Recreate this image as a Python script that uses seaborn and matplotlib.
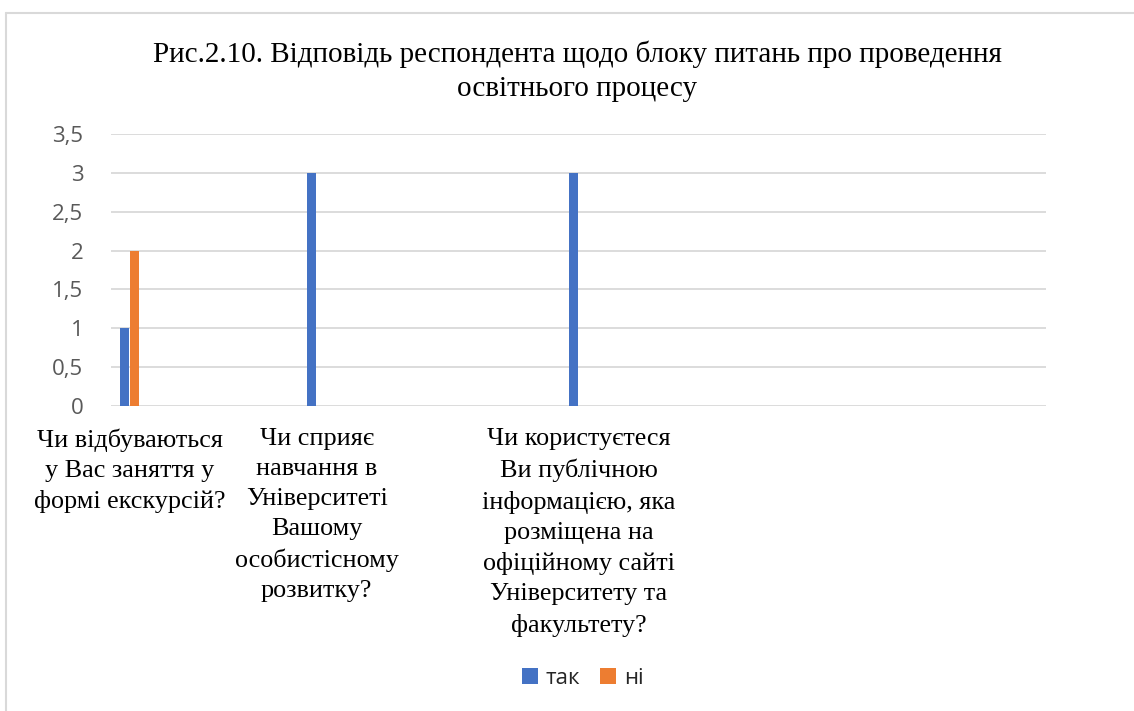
import numpy as np
import pandas as pd
import matplotlib
matplotlib.use("Agg")
import matplotlib.pyplot as plt
from matplotlib.lines import Line2D
import seaborn as sns

# chart data
title = "Рис.2.10. Відповідь респондента щодо блоку питань про проведення\nосвітнього процесу"
questions = [
    "Чи відбуваються\nу Вас заняття у\nформі екскурсій?",
    "Чи сприяє\nнавчання в\nУніверситеті\nВашому\nособистісному\nрозвитку?",
    "Чи користуєтеся\nВи публічною\nінформацією, яка\nрозміщена на\nофіційному сайті\nУніверситету та\nфакультету?",
]
# the source sheet has 25 category rows, only three of them are filled
question_rows = [0, 5, 12]
n_rows = 25
tak = [1, 3, 3]
ni = [2, 0, 0]
series_names = ["так", "ні"]
yticks = [0, 0.5, 1, 1.5, 2, 2.5, 3, 3.5]
ytick_labels = ["0", "0,5", "1", "1,5", "2", "2,5", "3", "3,5"]

palette = {"так": "#4472C4", "ні": "#ED7D31"}
grid_gray = "#D9D9D9"
text_gray = "#595959"


def main():
    sns.set_theme(style="white")
    plt.rcParams["font.family"] = ["Open Sans", "DejaVu Sans"]

    row_keys = [f"row{i}" for i in range(n_rows)]
    q_keys = [row_keys[i] for i in question_rows]
    df = pd.DataFrame({
        "row": q_keys * 2,
        "value": tak + ni,
        "series": [series_names[0]] * len(tak) + [series_names[1]] * len(ni),
    })

    fig = plt.figure(figsize=(11.34, 7.11), dpi=100)
    ax = fig.add_axes([111 / 1134, 1 - 406 / 711, 935 / 1134, 272 / 711])

    sns.barplot(
        data=df, x="row", y="value", hue="series", order=row_keys,
        hue_order=series_names, palette=palette, width=0.55, gap=0.15,
        saturation=1, ax=ax, legend=True, linewidth=0,
    )

    ax.set_ylim(0, 3.5)
    ax.set_yticks(yticks)
    ax.set_yticklabels(ytick_labels, fontsize=16, color=text_gray)
    ax.set_xlim(-0.5, n_rows - 0.5)
    labels = [""] * n_rows
    for q, i in zip(questions, question_rows):
        labels[i] = q
    ax.set_xticks(range(n_rows))
    ax.set_xticklabels(labels, fontsize=18.8, family="Liberation Serif",
                       color="black", linespacing=1.47, va="top")
    ax.tick_params(axis="y", length=0, pad=20)
    ax.tick_params(axis="x", length=0, pad=16)
    ax.set_xlabel("")
    ax.set_ylabel("")

    ax.yaxis.grid(True, color=grid_gray, linewidth=1.3)
    ax.set_axisbelow(True)
    for s in ax.spines.values():
        s.set_visible(False)

    handles, lbls = ax.get_legend_handles_labels()
    ax.legend(handles, lbls, loc="center", bbox_to_anchor=(583 / 1134, 33 / 711),
              bbox_transform=fig.transFigure, ncol=2, frameon=False,
              fontsize=16, handlelength=0.72, handleheight=0.72,
              handletextpad=0.35, columnspacing=0.9)

    fig.text(577 / 1134, 1 - 71 / 711, title, ha="center", va="center",
             multialignment="center", fontsize=21, family="Liberation Serif",
             linespacing=1.38, color="black")

    # chart area border (cropped on the right and bottom)
    fig.add_artist(Line2D([6 / 1134, 1], [1 - 13 / 711, 1 - 13 / 711],
                          transform=fig.transFigure, color=grid_gray, linewidth=1.5))
    fig.add_artist(Line2D([6 / 1134, 6 / 1134], [0, 1 - 13 / 711],
                          transform=fig.transFigure, color=grid_gray, linewidth=1.5))

    fig.savefig("out.png", dpi=100, facecolor="white")
    plt.close(fig)


if __name__ == "__main__":
    main()
